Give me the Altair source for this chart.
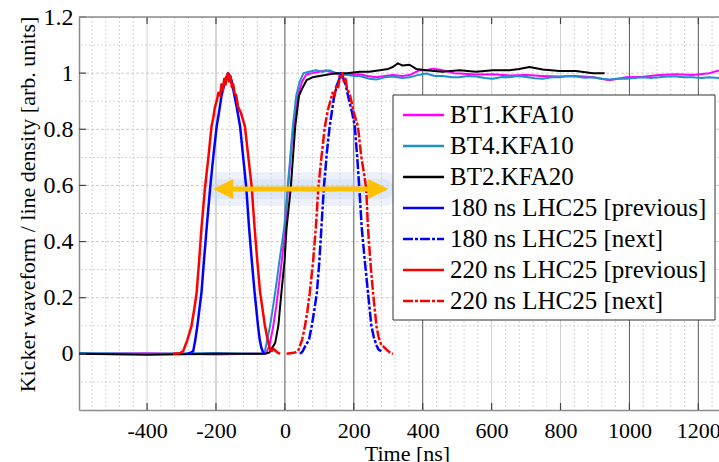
import altair as alt
import pandas as pd

FONT = "'Liberation Serif', 'Times New Roman', Times, serif"

# ---------------- data ----------------
names = ["BT1.KFA10", "BT4.KFA10", "BT2.KFA20",
         "180 ns LHC25 [previous]", "180 ns LHC25 [next]",
         "220 ns LHC25 [previous]", "220 ns LHC25 [next]"]
colors = ["#ff00ff", "#1f8fce", "#000000", "#0000ff", "#0000ff", "#ff0000", "#ff0000"]
dashes = [[1, 0], [1, 0], [1, 0], [1, 0], [10, 2, 3, 2], [1, 0], [10, 2, 3, 2]]
widths = [2, 2, 2, 2.5, 2.5, 2.5, 2.5]

bt1_t = [-598, -400, -200, -100, -55, -45, -35, -25, -12, 0, 9, 20, 30, 40, 50, 62, 80, 100, 120, 140,
         160, 190, 217, 240, 265, 290, 313, 340, 362, 391, 410, 430, 450, 468, 490, 507, 555, 603, 652, 700,
         748, 797, 845, 894, 942, 990, 1039, 1087, 1135, 1183, 1232, 1260]
bt1_v = [0, 0.002, -0.002, 0, 0, 0.03, 0.09, 0.17, 0.3, 0.43, 0.59, 0.75, 0.86, 0.93, 0.97, 0.995, 1.0, 1.005, 1.01, 1.0,
         0.995, 0.995, 0.996, 0.99, 0.985, 0.99, 0.993, 0.99, 0.993, 1.011, 1.01, 1.016, 1.012, 1.008, 1.0, 0.999, 0.995, 0.996, 0.992, 0.993,
         0.99, 0.988, 0.99, 0.985, 0.975, 0.985, 0.987, 0.993, 0.996, 0.993, 1.0, 1.01]

bt4_t = [-598, -400, -200, -100, -65, -58, -43, -28, -16, -2, 8, 23, 33, 43, 54, 70, 90, 110, 130, 150,
         175, 200, 217, 245, 265, 290, 313, 340, 362, 385, 410, 435, 458, 485, 507, 530, 555, 580, 603, 630,
         652, 675, 700, 725, 748, 775, 797, 820, 845, 870, 894, 920, 942, 965, 990, 1015, 1039, 1063, 1087, 1110,
         1135, 1160, 1183, 1210, 1232, 1260]
bt4_v = [0.003, 0, 0.003, 0, 0, 0.01, 0.1, 0.22, 0.33, 0.45, 0.59, 0.81, 0.92, 0.97, 1.0, 1.005, 1.01, 1.005, 1.01, 1.0,
         0.995, 0.99, 0.99, 0.98, 0.977, 0.985, 0.988, 0.983, 0.985, 0.993, 0.999, 0.99, 0.99, 0.985, 0.985, 0.99, 0.988, 0.983, 0.98, 0.986,
         0.985, 0.99, 0.986, 0.982, 0.98, 0.985, 0.985, 0.99, 0.988, 0.984, 0.985, 0.98, 0.977, 0.98, 0.98, 0.983, 0.985, 0.983, 0.985, 0.988,
         0.988, 0.985, 0.985, 0.983, 0.985, 0.983]

bt2_t = [-598, -400, -200, -100, -60, -45, -35, -28, -19, -10, -1, 5, 17, 30, 41, 52, 63, 80, 101, 125,
         150, 180, 217, 245, 275, 300, 313, 328, 342, 362, 381, 410, 458, 507, 555, 603, 652, 680, 710, 748,
         797, 845, 894, 928]
bt2_v = [0, -0.003, 0, 0, 0, 0.005, 0.025, 0.04, 0.1, 0.22, 0.33, 0.45, 0.59, 0.81, 0.92, 0.95, 0.975, 0.985, 0.99, 0.995,
         1.0, 1.0, 1.005, 1.005, 1.01, 1.015, 1.022, 1.035, 1.027, 1.03, 1.015, 1.01, 1.005, 1.01, 1.005, 1.01, 1.01, 1.015, 1.022, 1.013,
         1.008, 1.008, 1.0, 1.0]

b180p_t = [-285, -275, -266, -260, -254, -248, -242, -235, -227, -217, -208, -198, -190, -184, -176, -170, -165, -160, -155, -148,
           -140, -130, -121, -112, -104, -96, -88, -83, -78, -73, -68, -64, -60]
b180p_v = [0, 0.003, 0.01, 0.05, 0.1, 0.16, 0.22, 0.33, 0.45, 0.59, 0.7, 0.81, 0.87, 0.92, 0.96, 0.985, 1.0, 0.99, 0.975, 0.93,
           0.88, 0.81, 0.7, 0.59, 0.45, 0.33, 0.22, 0.16, 0.1, 0.05, 0.02, 0.008, 0.0]

b180n_t = [44, 52, 60, 70, 78, 86, 93, 100, 106, 113, 122, 130, 142, 152, 158, 164, 170, 176, 185, 195,
           203, 210, 216, 223, 232, 241, 251, 258, 266, 272, 280]
b180n_v = [0, 0.01, 0.03, 0.05, 0.1, 0.16, 0.22, 0.33, 0.45, 0.59, 0.72, 0.81, 0.91, 0.96, 0.98, 1.0, 0.98, 0.96, 0.91, 0.86,
           0.81, 0.7, 0.59, 0.45, 0.33, 0.22, 0.1, 0.06, 0.03, 0.015, 0.01]

b220p_t = [-325, -305, -295, -283, -271, -263, -256, -249, -242, -232, -222, -213, -208, -203, -198, -193, -188, -184, -180, -176,
           -172, -168, -165, -162, -158, -154, -150, -146, -141, -136, -128, -116, -106, -96, -88, -80, -72, -65, -58, -50,
           -43, -38, -33, -28, -22, -14]
b220p_v = [0, 0.002, 0.01, 0.05, 0.1, 0.16, 0.22, 0.33, 0.45, 0.59, 0.7, 0.81, 0.84, 0.88, 0.9, 0.93, 0.92, 0.96, 0.94, 0.98,
           0.96, 0.99, 1.0, 0.97, 0.99, 0.95, 0.96, 0.93, 0.92, 0.88, 0.86, 0.81, 0.7, 0.59, 0.45, 0.33, 0.22, 0.16, 0.1, 0.05,
           0.015, 0.01, 0.018, 0.012, 0.005, 0]

b220n_t = [5, 15, 30, 38, 43, 50, 58, 65, 72, 82, 90, 97, 106, 116, 125, 132, 138, 144, 150, 155,
           159, 163, 167, 171, 176, 181, 187, 193, 200, 212, 222, 230, 236, 241, 248, 256, 266, 272, 280, 287,
           295, 305, 314]
b220n_v = [0, 0.002, 0.005, 0.01, 0.026, 0.05, 0.097, 0.15, 0.216, 0.33, 0.453, 0.59, 0.7, 0.81, 0.87, 0.9, 0.93, 0.92, 0.96, 0.95,
           0.99, 0.98, 1.0, 0.97, 0.98, 0.94, 0.93, 0.9, 0.86, 0.81, 0.7, 0.64, 0.59, 0.453, 0.33, 0.216, 0.097, 0.06, 0.03, 0.025,
           0.015, 0.005, 0]

series_t = [bt1_t, bt4_t, bt2_t, b180p_t, b180n_t, b220p_t, b220n_t]
series_v = [bt1_v, bt4_v, bt2_v, b180p_v, b180n_v, b220p_v, b220n_v]

x_ticks = [-400, -200, 0, 200, 400, 600, 800, 1000, 1200]
y_ticks = [0, 0.2, 0.4, 0.6, 0.8, 1, 1.2]
x_dark = [0, 200, 400, 1000, 1200]
x_mid = [-200]
x_light = [-400, 600, 800]
x_minor = [v for v in range(-560, 1260, 40) if v % 200 != 0]
y_minor = [-0.1, 0.1, 0.3, 0.5, 0.7, 0.9, 1.1]
y_major = [0.2, 0.4, 0.6, 0.8, 1.0]

arrow_ends = [-208, 300]   # ns, tips of the double arrow
arrow_level = 0.587

# ---------------- build ----------------
rows = []
for name, ts, vs in zip(names, series_t, series_v):
    for t, v in zip(ts, vs):
        rows.append({"series": name, "t": t, "v": v})
df = pd.DataFrame(rows)

W, H = 640, 393
xs = alt.Scale(domain=[-597.6, 1260], nice=False, zero=False)
ys = alt.Scale(domain=[-0.2, 1.2], nice=False, zero=False)

x_axis = alt.Axis(values=x_ticks, title="Time [ns]", grid=False, ticks=False, tickSize=0,
                  domainColor="#8c8c8c", domainWidth=1.5,
                  labelFont=FONT, labelFontSize=22, labelColor="black", labelPadding=27,
                  labelBaseline="alphabetic", labelFlush=False, labelOverlap=False,
                  labelExpr="toString(datum.value)",
                  titleFont=FONT, titleFontSize=22, titleFontWeight="normal", titleColor="black",
                  titleX=328, titleY=50, titleBaseline="alphabetic")
y_axis = alt.Axis(values=y_ticks, title="Kicker waveform / line density [arb. units]",
                  grid=False, ticks=False, tickSize=0,
                  domainColor="#8c8c8c", domainWidth=1.5,
                  labelFont=FONT, labelFontSize=24, labelColor="black", labelPadding=6,
                  labelOverlap=False, labelFlush=False,
                  labelExpr="toString(datum.value)",
                  titleFont=FONT, titleFontSize=22, titleFontWeight="normal", titleColor="black",
                  titleX=-52, titleY=187, titleBaseline="middle", titleAngle=270)


def X(field):
    return alt.X(field, scale=xs, axis=x_axis)


def Y(field):
    return alt.Y(field, scale=ys, axis=y_axis)


def gx(vals, color, dash=None, width=1.0):
    kw = dict(color=color, strokeWidth=width)
    if dash:
        kw["strokeDash"] = dash
    return alt.Chart(pd.DataFrame({"gx": vals})).mark_rule(**kw).encode(x=X("gx:Q"))


def gy(vals, color, dash=None, width=1.0):
    kw = dict(color=color, strokeWidth=width)
    if dash:
        kw["strokeDash"] = dash
    return alt.Chart(pd.DataFrame({"gy": vals})).mark_rule(**kw).encode(y=Y("gy:Q"))


layers = [
    gx(x_minor, "#d4d4d4", [2, 2]),
    gy(y_minor, "#d4d4d4", [2, 2]),
    gy(y_major, "#cccccc", [3, 2]),
    gx(x_light, "#d0d0d0"),
    gx(x_mid, "#b0b0b0"),
    gx(x_dark, "#5a5a5a"),
]

# glow of the arrow
glow_df = pd.DataFrame({"x1": [arrow_ends[0] + 15], "x2": [arrow_ends[1] - 15], "y": [arrow_level]})
for w, op in [(34, 0.30), (20, 0.35)]:
    layers.append(alt.Chart(glow_df).mark_rule(color="#c3d1f0", strokeWidth=w, strokeCap="round", opacity=op).encode(
        x=X("x1:Q"), x2="x2:Q", y=Y("y:Q")))

# curves
for i, name in enumerate(names):
    sub = df[df.series == name]
    mk = dict(color=colors[i], strokeWidth=widths[i], clip=True, strokeJoin="round")
    if dashes[i] != [1, 0]:
        mk["strokeDash"] = dashes[i]
    layers.append(alt.Chart(sub).mark_line(**mk).encode(x=X("t:Q"), y=Y("v:Q")))

# arrow
shaft_df = pd.DataFrame({"x1": [arrow_ends[0] + 25], "x2": [arrow_ends[1] - 25], "y": [arrow_level]})
layers.append(alt.Chart(shaft_df).mark_rule(color="#ffc000", strokeWidth=5).encode(
    x=X("x1:Q"), x2="x2:Q", y=Y("y:Q")))
head_df = pd.DataFrame({"hx": [arrow_ends[0] + 29, arrow_ends[1] - 29], "y": [arrow_level, arrow_level],
                        "dir": ["L", "R"]})
layers.append(alt.Chart(head_df).mark_point(filled=True, opacity=1, size=400, color="#ffc000", strokeWidth=0).encode(
    x=X("hx:Q"), y=Y("y:Q"),
    shape=alt.Shape("dir:N", scale=alt.Scale(domain=["L", "R"],
                                             range=["M 1 -1 L -1 0 L 1 1 Z", "M -1 -1 L 1 0 L -1 1 Z"]),
                    legend=None)))

# ticks (inward) and top frame
layers.append(alt.Chart(pd.DataFrame({"gx": x_ticks})).mark_rule(color="#444444", strokeWidth=1.2).encode(
    x=X("gx:Q"), y=alt.value(H), y2=alt.value(H - 7)))
layers.append(alt.Chart(pd.DataFrame({"gx": x_ticks})).mark_rule(color="#444444", strokeWidth=1.2).encode(
    x=X("gx:Q"), y=alt.value(0), y2=alt.value(7)))
layers.append(alt.Chart(pd.DataFrame({"gy": y_ticks})).mark_rule(color="#444444", strokeWidth=1.2).encode(
    y=Y("gy:Q"), x=alt.value(0), x2=alt.value(7)))
layers.append(alt.Chart(pd.DataFrame({"a": [0]})).mark_rule(color="#8c8c8c", strokeWidth=1.5).encode(
    x=alt.value(0), x2=alt.value(W), y=alt.value(0)))

# legend (drawn by hand)
LX0, LX1, LY0, LY1 = 314, 636, 78, 303
layers.append(alt.Chart(pd.DataFrame({"a": [0]})).mark_rect(fill="white", stroke="#333333", strokeWidth=1).encode(
    x=alt.value(LX0), x2=alt.value(LX1), y=alt.value(LY0), y2=alt.value(LY1)))
for i, name in enumerate(names):
    yy = 98 + 31 * i
    ld = pd.DataFrame({"label": [name]})
    mk = dict(color=colors[i], strokeWidth=2.5)
    if dashes[i] != [1, 0]:
        mk["strokeDash"] = dashes[i]
    layers.append(alt.Chart(ld).mark_rule(**mk).encode(
        x=alt.value(324), x2=alt.value(365), y=alt.value(yy)))
    layers.append(alt.Chart(ld).mark_text(align="left", baseline="middle", font=FONT, fontSize=25,
                                          color="black").encode(
        x=alt.value(371), y=alt.value(yy), text="label:N"))

chart = alt.layer(*layers).properties(
    width=W, height=H,
    autosize=alt.AutoSizeParams(type="none"),
    padding={"left": 79, "top": 17, "right": 0, "bottom": 52},
).configure_view(stroke=None).configure(background="white")

chart.save("out.html", embed_options={"renderer": "svg", "actions": False})
